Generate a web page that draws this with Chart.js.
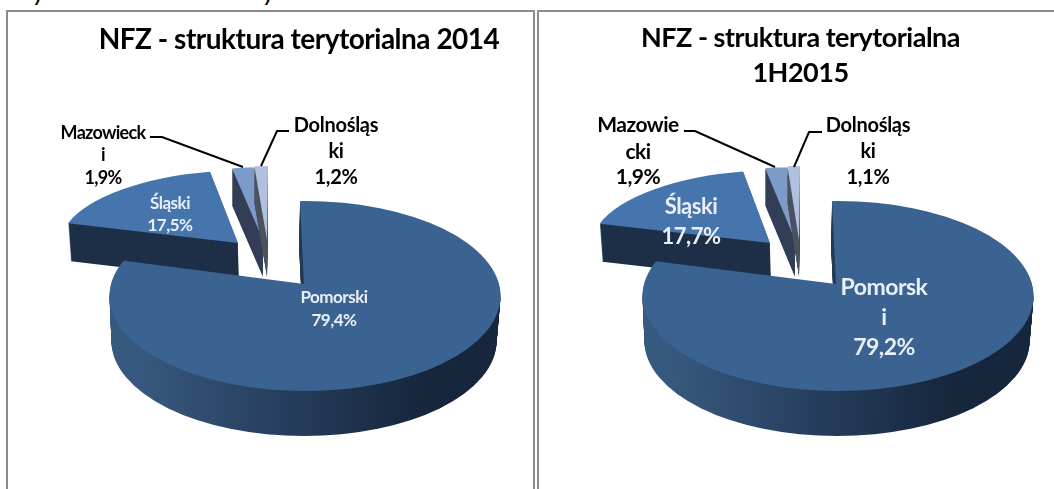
<!DOCTYPE html>
<html>

<head>
    <meta charset="utf-8">
    <title>NFZ - struktura terytorialna</title>
    <script src="https://cdn.jsdelivr.net/npm/chart.js"></script>
    <style>
        html, body {
            margin: 0;
            padding: 0;
            width: 1054px;
            height: 489px;
            overflow: hidden;
            background: #fff;
        }

        .frame {
            position: absolute;
            top: 10px;
            height: 479px;
            box-sizing: border-box;
            border: 2px solid #8c8c8c;
            border-bottom: none;
        }

        #frame-2014 { left: 6px; width: 529px; }
        #frame-2015 { left: 537px; width: 517px; border-right: none; }

        canvas { display: block; }

        .cut {
            position: absolute;
            top: -17px;
            font: italic bold 19px Lato;
            color: #000;
        }
    </style>
</head>

<body>
    <div class="cut" style="left:34px">y</div>
    <div class="cut" style="left:264px">y</div>
    <div class="frame" id="frame-2014"><canvas id="chart-2014" width="525" height="477"></canvas></div>
    <div class="frame" id="frame-2015"><canvas id="chart-2015" width="515" height="477"></canvas></div>

    <script>
        // dane
        const values2014 = [79.4, 17.5, 1.9, 1.2];
        const values2015 = [79.2, 17.7, 1.9, 1.1];
        const names2014 = [['Pomorski'], ['Śląski'], ['Mazowieck', 'i'], ['Dolnośląs', 'ki']];
        const names2015 = [['Pomorsk', 'i'], ['Śląski'], ['Mazowie', 'cki'], ['Dolnośląs', 'ki']];
        const title2014 = 'NFZ - struktura terytorialna 2014';
        const title2015 = ['NFZ - struktura terytorialna', '1H2015'];

        const topColors = ['#3b6391', '#4675ad', '#7c9bc8', '#b0c0de'];
        const sideColors = ['#38597f', '#1e3048', '#333f57', '#4c5360'];

        // rzut "3D" kazdego wycinka: wierzcholek, promienie, scinanie, grubosc
        // Pomorski ma dodatkowo obcieta krawedz (rim), bo wierzcholek nie lezy w srodku elipsy
        const slices2014 = [
            { ax: 304, ay: 284, rx: 250, ry: 115, shear: 5.5, depth: 45, skew: -1, taper: 0.985, rim: { cx: 305, cy: 296, rx: 195.5, ry: 95 } },
            { ax: 238, ay: 243, rx: 178.6, ry: 72.7, shear: -6.8, depth: 38, skew: 1, taper: 0.99 },
            { ax: 263, ay: 240, rx: 179, ry: 73, shear: -3.8, depth: 37, skew: 0, taper: 1 },
            { ax: 267, ay: 240, rx: 181, ry: 74, shear: -1, depth: 37, skew: 0, taper: 1 }
        ];
        const slices2015 = slices2014.map(s => ({
            ...s,
            ax: s.ax + 532,
            rim: s.rim ? { ...s.rim, cx: s.rim.cx + 533 } : undefined
        }));

        const labels2014 = [
            { x: 334, y: [298, 321], size: 17, spacing: -0.5, color: '#e9eff6' },
            { x: 170, y: [204, 226], size: 17, spacing: -0.5, color: '#e9eff6' },
            { x: 103, y: [133, 155, 178], size: 18, spacing: -0.7, color: '#000' },
            { x: 336, y: [126, 152, 178], size: 20, spacing: -0.3, color: '#000' }
        ];
        const labels2015 = [
            { x: 884, y: [288, 318, 348], size: 23, spacing: -0.5, color: '#e9eff6' },
            { x: 691, y: [207, 237], size: 22, spacing: -0.5, color: '#e9eff6' },
            { x: 638, y: [125, 152, 177], size: 21, spacing: -0.5, color: '#000' },
            { x: 868, y: [126, 152, 178], size: 20, spacing: -0.3, color: '#000' }
        ];
        const leaders2014 = [
            [[150, 137], [162, 137], [243, 167]],
            [[289, 131], [277, 131], [261, 166]]
        ];
        const leaders2015 = [
            [[684, 131], [695, 131], [775, 167]],
            [[822, 132], [809, 132], [794, 167]]
        ];

        const pie3d = {
            id: 'pie3d',
            beforeDraw(chart) {
                chart.ctx.letterSpacing = '-0.5px';
            },
            beforeDatasetsDraw(chart, args, opts) {
                const ctx = chart.ctx;
                ctx.letterSpacing = '0px';
                const arcs = chart.getDatasetMeta(0).data;
                ctx.save();
                ctx.translate(-opts.originX, -opts.originY);
                // od tylu do przodu, Pomorski na koncu
                [1, 2, 3, 0].forEach(i => drawSlice(ctx, arcs[i], opts.slices[i], i));
                ctx.restore();
                return false;
            },
            afterDraw(chart, args, opts) {
                const ctx = chart.ctx;
                ctx.save();
                ctx.translate(-opts.originX, -opts.originY);
                ctx.strokeStyle = '#000';
                ctx.lineWidth = 2;
                opts.leaders.forEach(pts => {
                    ctx.beginPath();
                    pts.forEach((p, n) => n ? ctx.lineTo(p[0], p[1]) : ctx.moveTo(p[0], p[1]));
                    ctx.stroke();
                });
                ctx.textAlign = 'center';
                ctx.textBaseline = 'middle';
                opts.labels.forEach((l, i) => {
                    const lines = opts.names[i].concat(opts.values[i].toFixed(1).replace('.', ',') + '%');
                    ctx.font = 'bold ' + l.size + 'px Lato';
                    ctx.letterSpacing = l.spacing + 'px';
                    ctx.fillStyle = l.color;
                    lines.forEach((t, n) => ctx.fillText(t, l.x, l.y[n]));
                });
                ctx.restore();
            }
        };

        function paintArc(ctx, arc, s, dx, dy, scale) {
            const R = arc.outerRadius;
            ctx.save();
            if (s.rim) {
                ctx.beginPath();
                ctx.ellipse(s.rim.cx + dx, s.rim.cy + dy, s.rim.rx * scale, s.rim.ry, 0, 0, Math.PI * 2);
                ctx.clip();
            }
            ctx.translate(s.ax + dx, s.ay + dy);
            ctx.transform(s.rx * scale / R, 0, s.shear / R, s.ry / R, 0, 0);
            ctx.translate(-arc.x, -arc.y);
            arc.draw(ctx);
            ctx.restore();
        }

        function drawSlice(ctx, arc, s, i) {
            const top = arc.options;
            let fill = sideColors[i];
            if (i === 0) {
                // gradient liczony w ukladzie luku, wzgledem wierzcholka
                const toArc = sx => arc.x + sx * arc.outerRadius / s.rx;
                fill = ctx.createLinearGradient(toArc(-174), 0, toArc(116), 0);
                fill.addColorStop(0, '#38597f');
                fill.addColorStop(0.55, '#243c5a');
                fill.addColorStop(1, '#16263c');
            }
            arc.options = Object.create(top, { backgroundColor: { value: fill } });
            for (let d = s.depth; d > 0; d--) {
                const k = d / s.depth;
                paintArc(ctx, arc, s, s.skew * k, d, 1 + (s.taper - 1) * k);
            }
            arc.options = top;
            paintArc(ctx, arc, s, 0, 0, 1);
        }

        function makeChart(id, title, values, names, slices, labels, leaders, originX, padLeft, titleSize, titleTop) {
            return new Chart(document.getElementById(id), {
                type: 'pie',
                data: {
                    labels: names.map(n => n.join('')),
                    datasets: [{
                        data: values,
                        backgroundColor: topColors,
                        borderWidth: 0
                    }]
                },
                options: {
                    responsive: false,
                    animation: false,
                    layout: { padding: { left: padLeft } },
                    plugins: {
                        legend: { display: false },
                        tooltip: { enabled: false },
                        title: {
                            display: true,
                            text: title,
                            color: '#000',
                            font: { family: 'Lato', weight: 'bold', size: titleSize, lineHeight: 35 / titleSize },
                            padding: { top: titleTop, bottom: 0 }
                        },
                        pie3d: { slices, labels, leaders, names, values, originX, originY: 12 }
                    }
                },
                plugins: [pie3d]
            });
        }

        makeChart('chart-2014', title2014, values2014, names2014, slices2014, labels2014, leaders2014, 8, 57, 28, 10);
        makeChart('chart-2015', title2015, values2015, names2015, slices2015, labels2015, leaders2015, 539, 8, 27, 9);
    </script>
</body>

</html>
